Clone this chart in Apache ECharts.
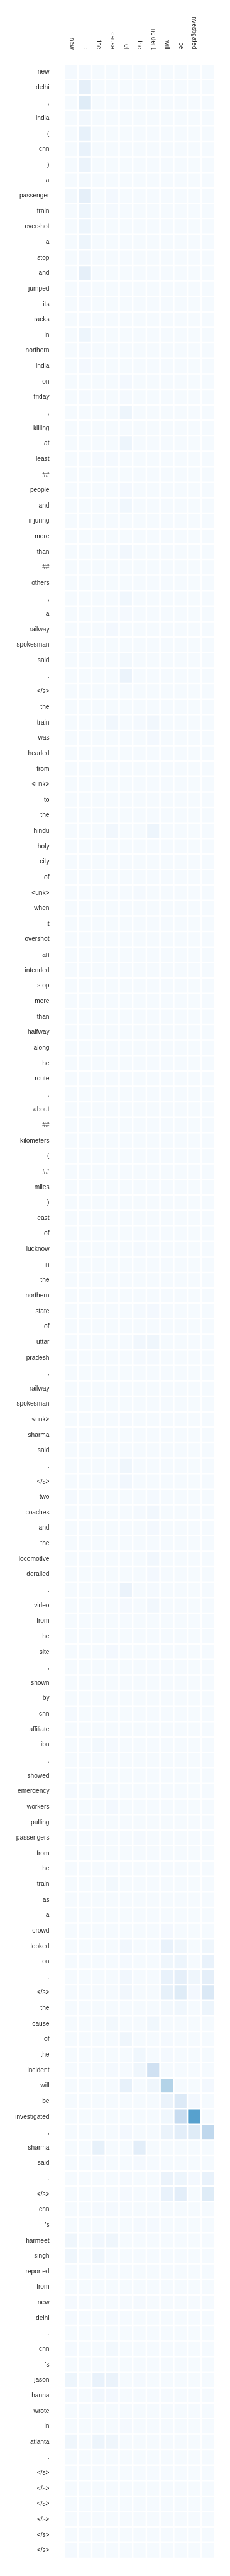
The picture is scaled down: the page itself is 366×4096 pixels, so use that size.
<!DOCTYPE html>
<html>
<head>
<meta charset="utf-8">
<script src="https://cdn.jsdelivr.net/npm/echarts@6/dist/echarts.min.js"></script>
<style>
  html, body { margin: 0; padding: 0; background: #ffffff; }
  #chart { width: 366px; height: 4096px; }
</style>
</head>
<body>
<div id="chart"></div>
<script>
// Output (summary) tokens - columns
const colLabels = ['new', ':', 'the', 'cause', 'of', 'the', 'incident', 'will', 'be', 'investigated', ''];

// Source tokens - rows, grouped by sentence
const sent1Labels = ['new','delhi',',','india','(','cnn',')','a','passenger','train','overshot','a','stop','and','jumped','its','tracks','in','northern','india','on','friday',',','killing','at','least','##','people','and','injuring','more','than','##','others',',','a','railway','spokesman','said','.','</s>'];
const sent2Labels = ['the','train','was','headed','from','<unk>','to','the','hindu','holy','city','of','<unk>','when','it','overshot','an','intended','stop','more','than','halfway','along','the','route',',','about','##','kilometers','(','##','miles',')','east','of','lucknow','in','the','northern','state','of','uttar','pradesh',',','railway','spokesman','<unk>','sharma','said','.','</s>'];
const sent3Labels = ['two','coaches','and','the','locomotive','derailed','.','video','from','the','site',',','shown','by','cnn','affiliate','ibn',',','showed','emergency','workers','pulling','passengers','from','the','train','as','a','crowd','looked','on','.','</s>'];
const sent4Labels = ['the','cause','of','the','incident','will','be','investigated',',','sharma','said','.','</s>'];
const sent5Labels = ['cnn',"'s",'harmeet','singh','reported','from','new','delhi','.','cnn',"'s",'jason','hanna','wrote','in','atlanta','.','</s>'];
const padLabels = ['</s>','</s>','</s>','</s>','</s>'];

// Attention weights, one row per source token, 11 values per row (one per column)
const sent1Weights = [
  [0.015,0.015,0.01,0.01,0.01,0.01,0.01,0.01,0.01,0.01,0.01],
  [0.01,0.09,0.01,0.01,0.01,0.01,0.01,0.01,0.01,0.01,0.01],
  [0.01,0.12,0.01,0.01,0.01,0.01,0.01,0.01,0.01,0.01,0.01],
  [0.01,0.03,0.01,0.01,0.01,0.01,0.01,0.01,0.01,0.01,0.01],
  [0.01,0.08,0.01,0.01,0.01,0.01,0.01,0.01,0.01,0.01,0.01],
  [0.01,0.07,0.01,0.01,0.01,0.01,0.01,0.01,0.01,0.01,0.01],
  [0.01,0.06,0.01,0.01,0.01,0.01,0.01,0.01,0.01,0.01,0.01],
  [0.01,0.025,0.01,0.01,0.01,0.01,0.01,0.01,0.01,0.01,0.01],
  [0.025,0.09,0.01,0.02,0.01,0.01,0.01,0.01,0.01,0.01,0.01],
  [0.01,0.05,0.01,0.015,0.01,0.01,0.01,0.01,0.01,0.01,0.01],
  [0.01,0.05,0.01,0.01,0.01,0.01,0.01,0.01,0.01,0.01,0.01],
  [0.01,0.05,0.01,0.01,0.01,0.01,0.01,0.01,0.01,0.01,0.01],
  [0.01,0.03,0.01,0.01,0.01,0.01,0.01,0.01,0.01,0.01,0.01],
  [0.01,0.09,0.01,0.01,0.01,0.01,0.01,0.01,0.01,0.01,0.01],
  [0.01,0.015,0.01,0.01,0.01,0.01,0.01,0.01,0.01,0.01,0.01],
  [0.01,0.015,0.01,0.01,0.01,0.01,0.01,0.01,0.01,0.01,0.01],
  [0.01,0.015,0.01,0.01,0.01,0.01,0.01,0.01,0.01,0.01,0.01],
  [0.01,0.05,0.01,0.01,0.01,0.01,0.01,0.01,0.01,0.01,0.01],
  [0.01,0.015,0.01,0.01,0.01,0.01,0.01,0.01,0.01,0.01,0.01],
  [0.01,0.02,0.01,0.01,0.01,0.01,0.01,0.01,0.01,0.01,0.01],
  [0.01,0.01,0.01,0.01,0.02,0.01,0.01,0.01,0.01,0.01,0.01],
  [0.01,0.015,0.01,0.01,0.015,0.01,0.01,0.01,0.01,0.01,0.01],
  [0.01,0.01,0.01,0.01,0.05,0.01,0.01,0.01,0.01,0.01,0.01],
  [0.01,0.01,0.01,0.01,0.01,0.01,0.01,0.01,0.01,0.01,0.01],
  [0.01,0.01,0.01,0.01,0.05,0.01,0.01,0.01,0.01,0.01,0.01],
  [0.01,0.01,0.015,0.015,0.01,0.01,0.01,0.01,0.01,0.01,0.01],
  [0.01,0.01,0.01,0.01,0.01,0.01,0.01,0.01,0.01,0.01,0.01],
  [0.01,0.01,0.01,0.01,0.02,0.01,0.01,0.01,0.01,0.01,0.01],
  [0.01,0.01,0.01,0.01,0.035,0.01,0.01,0.01,0.01,0.01,0.01],
  [0.01,0.01,0.01,0.01,0.01,0.01,0.01,0.01,0.01,0.01,0.01],
  [0.01,0.01,0.01,0.01,0.01,0.01,0.01,0.01,0.01,0.01,0.01],
  [0.01,0.01,0.01,0.01,0.03,0.01,0.01,0.01,0.01,0.01,0.01],
  [0.01,0.01,0.01,0.01,0.01,0.01,0.01,0.01,0.01,0.01,0.01],
  [0.01,0.01,0.01,0.01,0.01,0.01,0.01,0.01,0.01,0.01,0.01],
  [0.01,0.01,0.01,0.01,0.035,0.01,0.01,0.01,0.01,0.01,0.01],
  [0.01,0.01,0.01,0.01,0.015,0.01,0.01,0.01,0.01,0.01,0.01],
  [0.01,0.01,0.01,0.02,0.01,0.01,0.01,0.01,0.01,0.01,0.01],
  [0.01,0.01,0.01,0.01,0.01,0.01,0.01,0.01,0.01,0.01,0.01],
  [0.01,0.01,0.01,0.01,0.025,0.01,0.01,0.01,0.01,0.01,0.01],
  [0.01,0.01,0.01,0.01,0.06,0.01,0.01,0.01,0.01,0.01,0.01],
  [0.01,0.01,0.01,0.01,0.01,0.01,0.01,0.01,0.01,0.01,0.01]
];
const sent2Weights = [
  [0.01,0.01,0.01,0.01,0.01,0.01,0.01,0.01,0.01,0.01,0.01],
  [0.01,0.01,0.01,0.03,0.01,0.015,0.03,0.01,0.01,0.01,0.01],
  [0.01,0.01,0.01,0.01,0.01,0.01,0.02,0.01,0.01,0.01,0.01],
  [0.01,0.01,0.01,0.01,0.01,0.01,0.01,0.01,0.01,0.01,0.01],
  [0.01,0.01,0.01,0.01,0.01,0.01,0.01,0.01,0.01,0.01,0.01],
  [0.01,0.01,0.01,0.01,0.01,0.01,0.01,0.01,0.01,0.01,0.01],
  [0.01,0.01,0.01,0.01,0.01,0.01,0.01,0.01,0.01,0.01,0.01],
  [0.01,0.01,0.01,0.01,0.01,0.01,0.01,0.01,0.01,0.01,0.01],
  [0.01,0.01,0.01,0.03,0.01,0.01,0.05,0.01,0.01,0.01,0.01],
  [0.01,0.01,0.01,0.01,0.01,0.01,0.01,0.01,0.01,0.01,0.01],
  [0.01,0.01,0.01,0.01,0.01,0.01,0.01,0.01,0.01,0.01,0.01],
  [0.01,0.01,0.01,0.01,0.01,0.01,0.01,0.01,0.01,0.01,0.01],
  [0.01,0.01,0.01,0.01,0.01,0.015,0.01,0.01,0.01,0.01,0.01],
  [0.01,0.01,0.01,0.01,0.01,0.01,0.01,0.01,0.01,0.01,0.01],
  [0.01,0.01,0.01,0.01,0.01,0.01,0.01,0.01,0.01,0.01,0.01],
  [0.01,0.01,0.01,0.01,0.01,0.01,0.01,0.01,0.01,0.01,0.01],
  [0.01,0.01,0.01,0.01,0.01,0.01,0.01,0.01,0.01,0.01,0.01],
  [0.01,0.01,0.01,0.01,0.01,0.01,0.01,0.01,0.01,0.01,0.01],
  [0.01,0.01,0.01,0.01,0.01,0.01,0.01,0.01,0.01,0.01,0.01],
  [0.01,0.01,0.01,0.01,0.01,0.01,0.01,0.01,0.01,0.01,0.01],
  [0.01,0.01,0.01,0.01,0.01,0.01,0.01,0.01,0.01,0.01,0.01],
  [0.01,0.01,0.01,0.01,0.01,0.01,0.01,0.01,0.01,0.01,0.01],
  [0.01,0.01,0.01,0.01,0.01,0.01,0.01,0.01,0.01,0.01,0.01],
  [0.01,0.01,0.01,0.01,0.01,0.01,0.01,0.01,0.01,0.01,0.01],
  [0.01,0.01,0.01,0.01,0.01,0.01,0.01,0.01,0.01,0.01,0.01],
  [0.01,0.01,0.01,0.01,0.01,0.01,0.01,0.01,0.01,0.01,0.01],
  [0.01,0.01,0.01,0.01,0.01,0.01,0.01,0.01,0.01,0.01,0.01],
  [0.01,0.01,0.01,0.01,0.01,0.01,0.01,0.01,0.01,0.01,0.01],
  [0.01,0.01,0.01,0.01,0.01,0.01,0.01,0.01,0.01,0.01,0.01],
  [0.01,0.01,0.01,0.01,0.01,0.01,0.01,0.01,0.01,0.01,0.01],
  [0.01,0.01,0.01,0.01,0.01,0.01,0.01,0.01,0.01,0.01,0.01],
  [0.01,0.01,0.01,0.01,0.01,0.01,0.01,0.01,0.01,0.01,0.01],
  [0.01,0.01,0.01,0.01,0.01,0.01,0.01,0.01,0.01,0.01,0.01],
  [0.01,0.01,0.01,0.01,0.01,0.01,0.01,0.01,0.01,0.01,0.01],
  [0.01,0.01,0.01,0.01,0.01,0.01,0.01,0.01,0.01,0.01,0.01],
  [0.01,0.01,0.01,0.01,0.01,0.015,0.01,0.01,0.01,0.01,0.01],
  [0.01,0.01,0.01,0.01,0.01,0.01,0.01,0.01,0.01,0.01,0.01],
  [0.01,0.01,0.01,0.01,0.01,0.01,0.01,0.01,0.01,0.01,0.01],
  [0.01,0.01,0.01,0.01,0.01,0.01,0.01,0.01,0.01,0.01,0.01],
  [0.01,0.01,0.01,0.01,0.01,0.015,0.02,0.01,0.01,0.01,0.01],
  [0.01,0.01,0.01,0.01,0.01,0.01,0.01,0.01,0.01,0.01,0.01],
  [0.01,0.01,0.01,0.01,0.01,0.03,0.04,0.01,0.01,0.01,0.01],
  [0.01,0.01,0.01,0.01,0.01,0.015,0.015,0.01,0.01,0.01,0.01],
  [0.01,0.01,0.01,0.01,0.01,0.01,0.01,0.01,0.01,0.01,0.01],
  [0.01,0.01,0.01,0.01,0.01,0.01,0.01,0.01,0.01,0.01,0.01],
  [0.01,0.01,0.01,0.01,0.01,0.01,0.01,0.01,0.01,0.01,0.01],
  [0.01,0.01,0.01,0.01,0.015,0.01,0.01,0.01,0.01,0.01,0.01],
  [0.015,0.01,0.01,0.01,0.01,0.01,0.01,0.01,0.01,0.01,0.01],
  [0.01,0.01,0.01,0.01,0.01,0.01,0.01,0.01,0.01,0.01,0.01],
  [0.01,0.01,0.01,0.01,0.04,0.01,0.01,0.01,0.01,0.01,0.01],
  [0.01,0.01,0.01,0.01,0.03,0.01,0.01,0.01,0.01,0.01,0.01]
];
const sent3Weights = [
  [0.015,0.01,0.01,0.01,0.01,0.01,0.015,0.01,0.01,0.01,0.01],
  [0.01,0.01,0.01,0.01,0.01,0.015,0.03,0.01,0.01,0.01,0.01],
  [0.01,0.01,0.01,0.01,0.01,0.01,0.02,0.01,0.01,0.01,0.01],
  [0.01,0.01,0.01,0.01,0.01,0.01,0.01,0.01,0.01,0.01,0.01],
  [0.01,0.01,0.01,0.01,0.01,0.01,0.03,0.01,0.01,0.01,0.01],
  [0.01,0.01,0.01,0.01,0.01,0.01,0.02,0.01,0.01,0.01,0.01],
  [0.01,0.01,0.01,0.01,0.06,0.01,0.015,0.01,0.01,0.01,0.01],
  [0.01,0.01,0.01,0.01,0.015,0.01,0.03,0.01,0.01,0.01,0.01],
  [0.01,0.01,0.01,0.01,0.01,0.01,0.01,0.01,0.01,0.01,0.01],
  [0.01,0.01,0.01,0.01,0.01,0.01,0.01,0.01,0.01,0.01,0.01],
  [0.01,0.01,0.01,0.02,0.01,0.01,0.01,0.01,0.01,0.01,0.01],
  [0.01,0.01,0.01,0.01,0.01,0.01,0.01,0.01,0.01,0.01,0.01],
  [0.01,0.01,0.01,0.01,0.01,0.01,0.01,0.01,0.01,0.01,0.01],
  [0.01,0.01,0.01,0.01,0.01,0.01,0.01,0.01,0.01,0.01,0.01],
  [0.015,0.01,0.01,0.01,0.01,0.01,0.01,0.01,0.01,0.01,0.01],
  [0.01,0.01,0.01,0.01,0.01,0.01,0.01,0.01,0.01,0.01,0.01],
  [0.01,0.01,0.025,0.015,0.01,0.01,0.01,0.01,0.01,0.01,0.01],
  [0.01,0.01,0.01,0.01,0.01,0.01,0.01,0.01,0.01,0.01,0.01],
  [0.01,0.01,0.01,0.01,0.01,0.01,0.01,0.01,0.01,0.01,0.01],
  [0.015,0.01,0.025,0.01,0.01,0.01,0.01,0.01,0.01,0.01,0.01],
  [0.01,0.01,0.01,0.02,0.01,0.01,0.01,0.01,0.01,0.01,0.01],
  [0.01,0.01,0.01,0.01,0.01,0.01,0.01,0.01,0.01,0.01,0.01],
  [0.01,0.01,0.015,0.01,0.01,0.015,0.01,0.01,0.01,0.01,0.01],
  [0.01,0.01,0.01,0.01,0.01,0.01,0.01,0.01,0.01,0.01,0.01],
  [0.01,0.01,0.01,0.01,0.01,0.01,0.01,0.01,0.01,0.01,0.01],
  [0.01,0.01,0.01,0.025,0.01,0.01,0.01,0.01,0.01,0.01,0.01],
  [0.01,0.01,0.01,0.01,0.01,0.01,0.01,0.01,0.01,0.01,0.01],
  [0.01,0.01,0.01,0.01,0.01,0.01,0.01,0.01,0.01,0.01,0.01],
  [0.01,0.01,0.01,0.01,0.01,0.01,0.01,0.02,0.01,0.01,0.01],
  [0.01,0.01,0.01,0.01,0.03,0.01,0.01,0.07,0.04,0.01,0.04],
  [0.01,0.01,0.01,0.01,0.015,0.01,0.01,0.04,0.05,0.01,0.07],
  [0.01,0.01,0.01,0.01,0.03,0.01,0.01,0.07,0.09,0.04,0.09],
  [0.01,0.01,0.01,0.01,0.03,0.01,0.01,0.08,0.12,0.02,0.14]
];
const sent4Weights = [
  [0.01,0.01,0.01,0.01,0.01,0.01,0.01,0.025,0.035,0.01,0.05],
  [0.01,0.01,0.01,0.025,0.01,0.01,0.035,0.01,0.01,0.01,0.01],
  [0.01,0.01,0.01,0.01,0.04,0.01,0.01,0.015,0.01,0.01,0.01],
  [0.01,0.01,0.01,0.01,0.01,0.035,0.01,0.015,0.01,0.01,0.01],
  [0.01,0.01,0.01,0.015,0.01,0.04,0.2,0.01,0.01,0.01,0.01],
  [0.01,0.01,0.01,0.01,0.08,0.01,0.04,0.31,0.01,0.01,0.02],
  [0.01,0.01,0.01,0.01,0.01,0.01,0.01,0.06,0.13,0.02,0.01],
  [0.01,0.01,0.01,0.01,0.01,0.01,0.01,0.035,0.24,0.56,0.01],
  [0.01,0.01,0.01,0.01,0.02,0.01,0.01,0.06,0.1,0.12,0.27],
  [0.01,0.01,0.08,0.01,0.01,0.1,0.01,0.01,0.01,0.01,0.01],
  [0.01,0.01,0.015,0.01,0.01,0.015,0.01,0.01,0.01,0.01,0.01],
  [0.01,0.01,0.01,0.01,0.015,0.01,0.01,0.06,0.05,0.02,0.07],
  [0.01,0.01,0.01,0.01,0.015,0.01,0.01,0.07,0.1,0.01,0.12]
];
const sent5Weights = [
  [0.01,0.01,0.015,0.015,0.01,0.01,0.01,0.01,0.01,0.01,0.01],
  [0.01,0.01,0.01,0.01,0.01,0.015,0.015,0.01,0.01,0.01,0.01],
  [0.04,0.01,0.03,0.04,0.01,0.01,0.01,0.01,0.01,0.01,0.01],
  [0.04,0.01,0.04,0.01,0.01,0.01,0.01,0.01,0.01,0.01,0.01],
  [0.01,0.01,0.01,0.01,0.01,0.01,0.01,0.01,0.01,0.01,0.01],
  [0.01,0.01,0.01,0.01,0.01,0.01,0.01,0.01,0.01,0.01,0.01],
  [0.015,0.01,0.01,0.01,0.01,0.015,0.01,0.01,0.01,0.01,0.01],
  [0.015,0.01,0.01,0.015,0.01,0.01,0.01,0.01,0.01,0.01,0.01],
  [0.01,0.01,0.01,0.01,0.01,0.01,0.01,0.01,0.01,0.01,0.01],
  [0.015,0.01,0.01,0.025,0.01,0.01,0.01,0.01,0.01,0.01,0.01],
  [0.01,0.01,0.01,0.01,0.01,0.01,0.01,0.01,0.01,0.01,0.01],
  [0.05,0.01,0.07,0.06,0.01,0.015,0.01,0.01,0.01,0.01,0.01],
  [0.015,0.01,0.03,0.02,0.01,0.01,0.01,0.01,0.01,0.01,0.01],
  [0.01,0.01,0.01,0.01,0.01,0.01,0.01,0.01,0.01,0.01,0.01],
  [0.01,0.01,0.01,0.01,0.015,0.01,0.01,0.01,0.01,0.01,0.01],
  [0.04,0.01,0.05,0.04,0.01,0.01,0.01,0.01,0.01,0.01,0.01],
  [0.01,0.01,0.01,0.01,0.01,0.01,0.01,0.01,0.01,0.01,0.01],
  [0.01,0.01,0.01,0.01,0.01,0.01,0.01,0.01,0.01,0.01,0.01]
];
const padWeights = [
  [0.01,0.01,0.01,0.01,0.01,0.01,0.01,0.01,0.01,0.01,0.01],
  [0.01,0.01,0.01,0.01,0.01,0.01,0.01,0.01,0.01,0.01,0.01],
  [0.01,0.01,0.01,0.01,0.01,0.01,0.01,0.01,0.01,0.01,0.01],
  [0.01,0.01,0.01,0.01,0.01,0.01,0.01,0.01,0.01,0.01,0.01],
  [0.015,0.01,0.01,0.01,0.01,0.01,0.01,0.01,0.01,0.01,0.01]
];

const rowLabels = [].concat(sent1Labels, sent2Labels, sent3Labels, sent4Labels, sent5Labels, padLabels);
const weights = [].concat(sent1Weights, sent2Weights, sent3Weights, sent4Weights, sent5Weights, padWeights);

const cells = [];
weights.forEach((row, yi) => {
  row.forEach((v, xi) => { cells.push([xi, yi, v]); });
});

const BLUES = ['#f7fbff','#deebf7','#c6dbef','#9ecae1','#6baed6','#4292c6','#2171b5','#08519c','#08306b'];
const FONT = "'Liberation Sans', Arial, sans-serif";

const chart = echarts.init(document.getElementById('chart'), null, { renderer: 'canvas' });
chart.setOption({
  backgroundColor: '#ffffff',
  animation: false,
  grid: { left: 102.8, top: 102, width: 239, height: 3965.7, containLabel: false },
  xAxis: {
    type: 'category',
    position: 'top',
    data: colLabels,
    axisLine: { show: false },
    axisTick: { show: false },
    splitLine: { show: false },
    axisLabel: {
      interval: 0,
      rotate: 90,
      margin: 23.5,
      fontFamily: FONT,
      fontSize: 10.2,
      color: '#262626',
      padding: [5, 0, 0, 0]
    }
  },
  yAxis: {
    type: 'category',
    inverse: true,
    data: rowLabels,
    axisLine: { show: false },
    axisTick: { show: false },
    splitLine: { show: false },
    axisLabel: {
      interval: 0,
      margin: 24.3,
      fontFamily: FONT,
      fontSize: 10.2,
      color: '#262626'
    }
  },
  visualMap: {
    show: false,
    type: 'continuous',
    min: 0,
    max: 1,
    dimension: 2,
    inRange: { color: BLUES }
  },
  series: [{
    type: 'heatmap',
    data: cells,
    itemStyle: { borderColor: '#ffffff', borderWidth: 2.5 },
    emphasis: { disabled: true }
  }]
});
</script>
</body>
</html>
